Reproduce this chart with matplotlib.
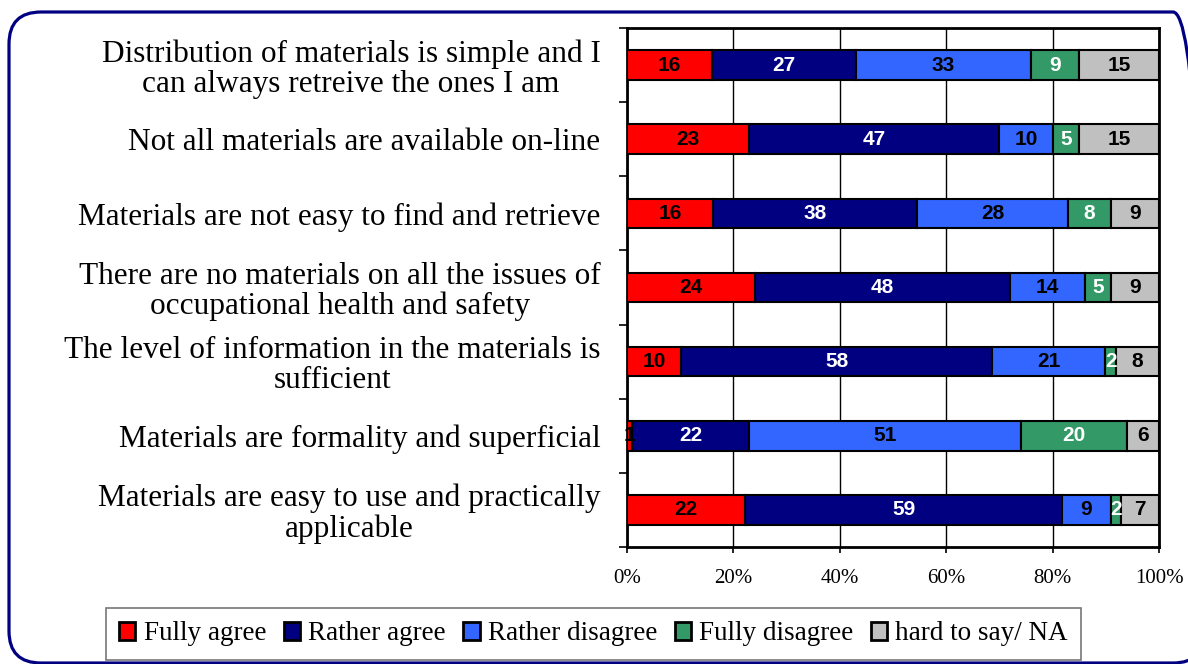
import matplotlib.pyplot as plt
import numpy as np
from matplotlib.patches import Patch, FancyBboxPatch
from matplotlib.transforms import IdentityTransform

plt.rcParams['font.family'] = 'Liberation Serif'

# statements, top to bottom
categories = [
    'Distribution of materials is simple and I\ncan always retreive the ones I am',
    'Not all materials are available on-line',
    'Materials are not easy to find and retrieve',
    'There are no materials on all the issues of\noccupational health and safety',
    'The level of information in the materials is\nsufficient',
    'Materials are formality and superficial',
    'Materials are easy to use and practically\napplicable',
]

fully_agree = [16, 23, 16, 24, 10, 1, 22]
rather_agree = [27, 47, 38, 48, 58, 22, 59]
rather_disagree = [33, 10, 28, 14, 21, 51, 9]
fully_disagree = [9, 5, 8, 5, 2, 20, 2]
hard_to_say = [15, 15, 9, 9, 8, 6, 7]

series_names = ['Fully agree', 'Rather agree', 'Rather disagree', 'Fully disagree', 'hard to say/ NA']
x_ticks = [0, 20, 40, 60, 80, 100]
x_ticklabels = ['0%', '20%', '40%', '60%', '80%', '100%']

colors = ['#FF0000', '#000080', '#3366FF', '#339966', '#C0C0C0']
text_colors = ['black', 'white', 'black', 'white', 'black']

W, H = 1188, 664
fig = plt.figure(figsize=(W / 100, H / 100), dpi=100)
ax = fig.add_axes([627 / W, 1 - 547 / H, (1159 - 627) / W, (547 - 28) / H])

data = np.array([fully_agree, rather_agree, rather_disagree, fully_disagree, hard_to_say], dtype=float)
pct = data / data.sum(axis=0) * 100
y = np.arange(len(categories))

left = np.zeros(len(categories))
for i, name in enumerate(series_names):
    ax.barh(y, pct[i], left=left, height=0.4, color=colors[i],
            edgecolor='black', linewidth=1.5, label=name, zorder=3)
    for j in range(len(categories)):
        ax.text(left[j] + pct[i][j] / 2, y[j], f'{int(data[i][j])}',
                ha='center', va='center', color=text_colors[i],
                fontsize=15, fontweight='bold', family='Liberation Sans', zorder=4)
    left += pct[i]

ax.set_xlim(0, 100)
ax.set_ylim(len(categories) - 0.5, -0.5)
ax.set_xticks(x_ticks)
ax.set_xticklabels(x_ticklabels, fontsize=15)
ax.set_yticks(y)
ax.set_yticklabels(categories, fontsize=22.5, multialignment='center', linespacing=1.05)
ax.set_yticks(np.arange(len(categories) + 1) - 0.5, minor=True)
ax.tick_params(axis='y', which='major', length=0, pad=19)
ax.tick_params(axis='y', which='minor', length=6, width=1.2, direction='out')
ax.tick_params(axis='x', length=4, width=1.2, pad=12)

ax.grid(True, axis='x', color='black', linewidth=1, zorder=0)
for spine in ax.spines.values():
    spine.set_color('black')
    spine.set_linewidth(2)

# legend at the bottom
handles = [Patch(facecolor=c, edgecolor='black', linewidth=2) for c in colors]
leg = fig.legend(handles, series_names, loc='center',
                 bbox_to_anchor=((107 + 1080) / 2 / W, 1 - 634 / H),
                 ncol=5, fontsize=19.5, frameon=True, fancybox=False,
                 handlelength=0.6, handleheight=0.6, handletextpad=0.3,
                 columnspacing=0.65, borderpad=0.5)
leg.get_frame().set_edgecolor('#555555')
leg.get_frame().set_linewidth(1.2)

# rounded outer frame
frame = FancyBboxPatch((9, 1), 1196, 651, boxstyle='round,pad=0,rounding_size=32',
                       transform=IdentityTransform(), facecolor='none',
                       edgecolor='#000080', linewidth=2.3)
fig.patches.append(frame)

plt.savefig('out.png', dpi=100)
